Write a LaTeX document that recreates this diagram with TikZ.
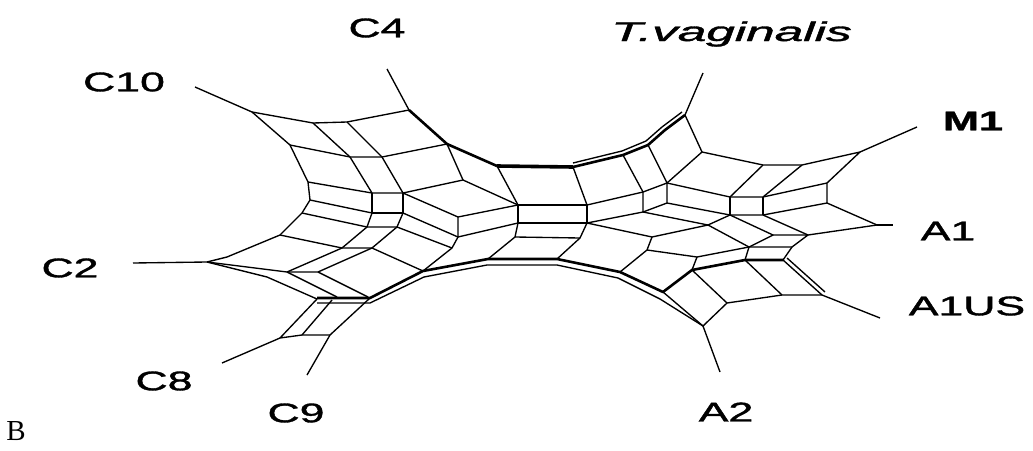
\documentclass[tikz,border=0pt]{standalone}
\usepackage{fontspec}
\setmainfont{Liberation Serif}
\setsansfont{Liberation Sans}
\newfontfamily\taxonfont[FakeBold=1.2]{Liberation Sans}
\usepackage{graphicx}

\newcommand{\widetext}[2][1.65]{\scalebox{#1}[1]{#2}}

\begin{document}
\begin{tikzpicture}[
  x=1pt, y=-1pt,
  net/.style={line width=1.35pt, line join=round},
  heavy/.style={line width=2.6pt, line join=round},
  heavier/.style={line width=3.6pt},
  taxon/.style={font=\taxonfont\fontsize{27}{30}\selectfont, inner sep=0pt}
]
\useasboundingbox (0,0) rectangle (1033,450);

% leaf tips and the points they hang from
\coordinate (c10tip) at (195,87);   \coordinate (c10) at (252,112);
\coordinate (c4tip) at (387,69);    \coordinate (c4) at (409,110);
\coordinate (tvtip) at (703,73);    \coordinate (tv) at (685,115);
\coordinate (m1tip) at (917,127);   \coordinate (m1) at (860,152);
\coordinate (a1tip) at (893,225);   \coordinate (a1) at (877,225);
\coordinate (a1ustip) at (880,318); \coordinate (a1us) at (822,295);
\coordinate (a2tip) at (720,372);   \coordinate (a2) at (703,326);
\coordinate (c9tip) at (307,375);   \coordinate (c9) at (330,335);
\coordinate (c8tip) at (222,363);   \coordinate (c8) at (280,338);
\coordinate (c2tip) at (133,263);   \coordinate (c2) at (207,262);

\foreach \t in {c10, c4, tv, m1, a1, a1us, a2, c9, c8, c2}
  \draw[net] (\t) -- (\t tip);

% upper left
\draw[net] (c10) -- (313,123) -- (347,122) -- (c4);
\draw[net] (c10) -- (290,145) -- (308,182) -- (310,200);
\draw[net] (290,145) -- (350,157) -- (382,157) -- (447,144);
\draw[net] (313,123) -- (350,157) -- (372,193);
\draw[net] (347,122) -- (382,157) -- (403,193);
\draw[net] (308,182) -- (372,193) -- (403,193) -- (463,180) -- (518,205);
\draw[net] (447,144) -- (463,180);
\draw[net] (497,166) -- (518,205);
\draw[net] (372,193) -- (372,213) -- (403,213) -- (403,193);
\draw[net] (310,200) -- (372,213);
\draw[net] (403,193) -- (458,217) -- (518,205);
\draw[net] (403,213) -- (458,237) -- (518,223);
\draw[net] (458,217) -- (458,237) -- (452,248) -- (423,271);
\draw[net] (310,200) -- (302,213) -- (280,235) -- (227,257) -- (c2);
\draw[net] (302,213) -- (367,227) -- (397,227) -- (452,248);
\draw[net] (372,213) -- (367,227) -- (342,248) -- (287,272);
\draw[net] (403,213) -- (397,227) -- (372,248) -- (318,272);
\draw[net] (280,235) -- (342,248) -- (372,248) -- (423,271);
\draw[net] (c2) -- (287,272) -- (318,272) -- (368,297);
\draw[net] (287,272) -- (337,297);
\draw[net] (c2) -- (267,277) -- (317,299);
\draw[heavy] (c4) -- (447,144) -- (497,166);
\draw[heavier] (497,166) -- (573,167);

% centre
\draw[net] (518,205) -- (587,205) -- (587,223) -- (518,223) -- cycle;
\draw[net] (573,167) -- (587,205);
\draw[net] (518,223) -- (515,237) -- (488,259);
\draw[net] (587,223) -- (580,238) -- (557,259);
\draw[net] (515,237) -- (580,238);

% lower arc
\draw[heavy] (317,298) -- (370,298) -- (423,271) -- (488,259) -- (557,259) -- (620,272)
  -- (663,292) -- (692,270) -- (745,260) -- (783,260);
\draw[net] (317,303) -- (370,303) -- (424,277) -- (487,265) -- (557,265) -- (618,278)
  -- (660,299) -- (a2);
\draw[net] (663,292) -- (a2);
\draw[net] (317,299) -- (c8) -- (302,335) -- (c9) -- (370,298);
\draw[net] (332,300) -- (302,335);

% upper right
\draw[heavy] (573,167) -- (623,155) -- (648,145) -- (665,130) -- (tv);
\draw[net] (573,163) -- (622,151) -- (646,141) -- (662,127) -- (682,112);
\draw[net] (623,155) -- (643,192) -- (667,183) -- (648,145);
\draw[net] (tv) -- (702,152) -- (667,183);
\draw[net] (587,205) -- (643,192) -- (643,212) -- (587,223);
\draw[net] (643,212) -- (667,203) -- (667,183);
\draw[net] (667,183) -- (730,197) -- (763,197) -- (827,183) -- (827,203) -- (763,215)
  -- (730,215) -- (667,203);
\draw[net] (730,197) -- (730,215);
\draw[net] (763,197) -- (763,215);
\draw[net] (702,152) -- (763,165) -- (802,165) -- (m1) -- (827,183);
\draw[net] (763,165) -- (730,197);
\draw[net] (802,165) -- (763,197);
\draw[net] (827,203) -- (a1);

% lower right
\draw[net] (587,223) -- (652,237) -- (708,225) -- (730,215);
\draw[net] (643,212) -- (708,225) -- (749,247);
\draw[net] (652,237) -- (647,250) -- (620,272);
\draw[net] (647,250) -- (697,257) -- (749,247) -- (773,235) -- (730,215);
\draw[net] (763,215) -- (808,235) -- (a1);
\draw[net] (773,235) -- (808,235) -- (792,247) -- (749,247);
\draw[net] (697,257) -- (692,270);
\draw[net] (749,247) -- (745,260);
\draw[net] (792,247) -- (783,260);
\draw[net] (692,270) -- (727,303) -- (782,295) -- (a1us);
\draw[net] (745,260) -- (782,295);
\draw[net] (783,260) -- (a1us);
\draw[net] (787,258) -- (825,292);
\draw[net] (727,303) -- (a2);

% taxon labels
\node[taxon] (c4lab) at (377,28) {\widetext{C4}};
\node[taxon] (c10lab) at (124,82) {\widetext{C10}};
\node[taxon, anchor=base west] (tvlab) at (611,41) {\widetext[1.9]{\itshape T.vaginalis}};
\node[taxon] (m1lab) at (973,121) {\widetext[1.6]{\bfseries M1}};
\node[taxon] (a1lab) at (948,231) {\widetext{A1}};
\node[taxon] (a1uslab) at (967,306) {\widetext{A1US}};
\node[taxon] (c2lab) at (70,268) {\widetext{C2}};
\node[taxon] (c8lab) at (164,381) {\widetext{C8}};
\node[taxon] (c9lab) at (296,413) {\widetext{C9}};
\node[taxon] (a2lab) at (726,412) {\widetext{A2}};
\node[font=\rmfamily\fontsize{29}{32}\selectfont, inner sep=0pt] (panel) at (16,431) {B};

\end{tikzpicture}
\end{document}
